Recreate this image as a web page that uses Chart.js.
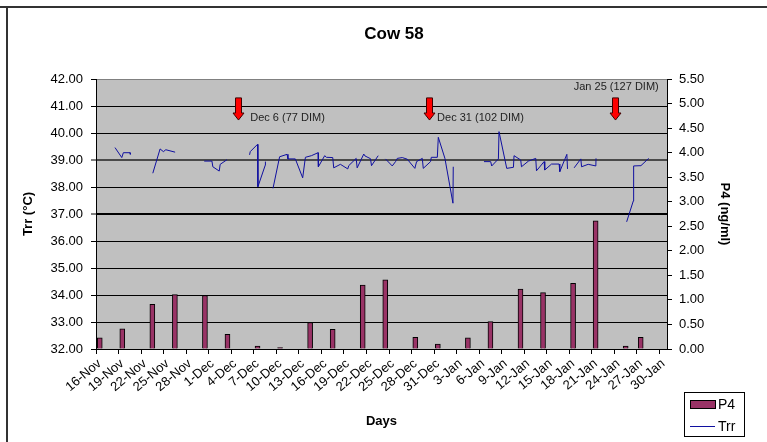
<!DOCTYPE html>
<html>
<head>
<meta charset="utf-8">
<script src="https://cdn.jsdelivr.net/npm/chart.js@4/dist/chart.umd.min.js"></script>
<style>
  html, body { margin: 0; padding: 0; background: #fff; overflow: hidden; }
  canvas { display: block; }
</style>
</head>
<body>
<canvas id="c" width="767" height="442"></canvas>
<script>
// ---- categories (one per day) ----
const categories = [
  '16-Nov','17-Nov','18-Nov','19-Nov','20-Nov','21-Nov','22-Nov','23-Nov','24-Nov','25-Nov',
  '26-Nov','27-Nov','28-Nov','29-Nov','30-Nov',
  '1-Dec','2-Dec','3-Dec','4-Dec','5-Dec','6-Dec','7-Dec','8-Dec','9-Dec','10-Dec',
  '11-Dec','12-Dec','13-Dec','14-Dec','15-Dec','16-Dec','17-Dec','18-Dec','19-Dec','20-Dec',
  '21-Dec','22-Dec','23-Dec','24-Dec','25-Dec','26-Dec','27-Dec','28-Dec','29-Dec','30-Dec','31-Dec',
  '1-Jan','2-Jan','3-Jan','4-Jan','5-Jan','6-Jan','7-Jan','8-Jan','9-Jan','10-Jan',
  '11-Jan','12-Jan','13-Jan','14-Jan','15-Jan','16-Jan','17-Jan','18-Jan','19-Jan','20-Jan',
  '21-Jan','22-Jan','23-Jan','24-Jan','25-Jan','26-Jan','27-Jan','28-Jan','29-Jan','30-Jan'
];
// ---- tick labels shown on the x axis ----
const tickLabels = ['16-Nov','19-Nov','22-Nov','25-Nov','28-Nov','1-Dec','4-Dec','7-Dec','10-Dec',
  '13-Dec','16-Dec','19-Dec','22-Dec','25-Dec','28-Dec','31-Dec','3-Jan','6-Jan','9-Jan','12-Jan',
  '15-Jan','18-Jan','21-Jan','24-Jan','27-Jan','30-Jan'];
const leftTicks = [32, 33, 34, 35, 36, 37, 38, 39, 40, 41, 42];
const rightTicks = [0, 0.5, 1, 1.5, 2, 2.5, 3, 3.5, 4, 4.5, 5, 5.5];

// ---- P4 (ng/ml) bars ----
const p4Dates = ['16-Nov','19-Nov','23-Nov','26-Nov','30-Nov','3-Dec','7-Dec','10-Dec','14-Dec','17-Dec',
  '21-Dec','24-Dec','28-Dec','31-Dec','4-Jan','7-Jan','11-Jan','14-Jan','18-Jan','21-Jan','25-Jan','27-Jan'];
const p4Values = [0.23, 0.41, 0.91, 1.11, 1.09, 0.30, 0.06, 0.03, 0.54, 0.40,
  1.30, 1.41, 0.24, 0.10, 0.23, 0.56, 1.22, 1.15, 1.34, 2.61, 0.06, 0.24];

// ---- Trr (°C) line: day offset from 16-Nov, temperature; null = gap ----
const trrDay = [
  2.03, 2.93, 3.14, 4.03, 4.07, null,
  7.06, 8.03, 8.47, 8.79, 10.03, null,
  13.9, 14.93, 15.05, 15.9, 16.03, 16.93, null,
  19.94, 20.03, 21.0, 21.05, 22.03, 22.05, null,
  23.06, 23.94, 24.93, 25.05, 26.03, 27.01, 27.37, 28.17, 29.06, 29.1, 29.94, 30.17, 31.01, 31.14,
  32.03, 33.01, 33.14, 34.13, 34.26, 35.14, 35.3, 36.03, 36.17, 37.06, null,
  38.03, 38.93, 39.37, 39.6, 40.26, 40.93, 41.94, 42.17, 42.93, 43.06, 44.03, 44.13, 44.93, 45.06,
  45.94, 47.01, 47.05, null,
  51.14, 52.03, 52.17, 53.06, 53.14, 54.17, 55.06, 55.14, 56.03, 56.13, 57.06, 58.03, 58.13, 59.14,
  59.23, 60.13, 61.14, 61.23, 62.17, 62.26, null,
  63.14, 64.03, 64.13, 65.01, 66.03, 66.05, null,
  70.13, 71.01, 71.06, 72.03, 73.06
];
const trrTemp = [
  39.46, 39.09, 39.27, 39.27, 39.21, null,
  38.51, 39.41, 39.31, 39.38, 39.29, null,
  38.96, 38.96, 38.75, 38.59, 38.84, 39.01, null,
  39.19, 39.31, 39.58, 38.01, 38.81, 38.94, null,
  37.95, 39.12, 39.21, 39.04, 39.04, 38.34, 39.10, 39.16, 39.27, 38.75, 39.16, 39.10, 39.09, 38.71,
  38.84, 38.67, 38.79, 39.06, 38.71, 39.22, 39.15, 39.05, 38.79, 39.16, null,
  39.04, 38.78, 38.94, 39.06, 39.09, 39.03, 38.69, 38.94, 39.06, 38.69, 38.94, 39.10, 39.10, 39.84,
  39.06, 37.40, 38.75, null,
  38.94, 38.94, 38.78, 39.04, 40.05, 38.69, 38.73, 39.16, 39.00, 38.75, 38.96, 39.06, 38.60, 38.94,
  38.63, 38.85, 38.85, 38.57, 39.21, 38.67, null,
  38.71, 39.04, 38.75, 38.84, 38.78, 39.06, null,
  36.71, 37.48, 38.78, 38.79, 39.06
];

// ---- annotations ----
const arrowDays = [18.4, 43.85, 68.6];
const arrowTopTemp = 41.30, arrowNeckTemp = 40.74, arrowTipTemp = 40.48;
const noteTexts = ['Dec 6 (77 DIM)', 'Dec 31 (102 DIM)', 'Jan 25 (127 DIM)'];
const noteDays = [20.03, 44.9, 74.4];
const noteTemps = [40.57, 40.57, 41.71];
const noteAlign = ['left', 'left', 'right'];

const FONT = "'Liberation Sans', Arial, Helvetica, sans-serif";
Chart.defaults.font.family = FONT;
Chart.defaults.color = '#000';

// build line data with gaps
const trrData = [];
let lastDay = 0;
for (let i = 0; i < trrDay.length; i++) {
  if (trrDay[i] === null) { trrData.push({x: lastDay + 0.001, y: null}); }
  else { lastDay = trrDay[i]; trrData.push({x: trrDay[i], y: trrTemp[i]}); }
}
const p4Data = p4Dates.map((d, i) => ({x: d, y: p4Values[i]}));

const decor = {
  id: 'decor',
  beforeDraw(chart) {
    const {ctx, chartArea: a} = chart;
    ctx.save();
    ctx.fillStyle = '#fff';
    ctx.fillRect(0, 0, chart.width, chart.height);
    ctx.fillStyle = '#c0c0c0';
    ctx.fillRect(a.left, a.top, a.right - a.left, a.bottom - a.top);
    ctx.restore();
  },
  afterDraw(chart) {
    const {ctx} = chart;
    const xs = chart.scales.xt, ys = chart.scales.y;
    ctx.save();
    // outer frame
    ctx.strokeStyle = '#333';
    ctx.lineWidth = 2;
    ctx.beginPath();
    ctx.moveTo(0, 7); ctx.lineTo(chart.width, 7);
    ctx.moveTo(7, 7); ctx.lineTo(7, chart.height);
    ctx.stroke();
    // title
    ctx.fillStyle = '#000';
    ctx.font = 'bold 17px ' + FONT;
    ctx.textAlign = 'center';
    ctx.textBaseline = 'middle';
    ctx.fillText('Cow 58', 394, 34);
    // arrows
    arrowDays.forEach(d => {
      const cx = Math.round(xs.getPixelForValue(d)) + 0.5;
      const yTop = ys.getPixelForValue(arrowTopTemp);
      const yNeck = ys.getPixelForValue(arrowNeckTemp);
      const yTip = ys.getPixelForValue(arrowTipTemp);
      ctx.beginPath();
      ctx.moveTo(cx - 3, yTop);
      ctx.lineTo(cx + 3, yTop);
      ctx.lineTo(cx + 3, yNeck);
      ctx.lineTo(cx + 5.5, yNeck);
      ctx.lineTo(cx, yTip);
      ctx.lineTo(cx - 5.5, yNeck);
      ctx.lineTo(cx - 3, yNeck);
      ctx.closePath();
      ctx.fillStyle = '#ff0000';
      ctx.fill();
      ctx.lineWidth = 1;
      ctx.strokeStyle = '#400000';
      ctx.stroke();
    });
    // notes
    ctx.font = '11px ' + FONT;
    ctx.fillStyle = '#222';
    ctx.textBaseline = 'middle';
    noteTexts.forEach((t, i) => {
      ctx.textAlign = noteAlign[i];
      ctx.fillText(t, xs.getPixelForValue(noteDays[i]), ys.getPixelForValue(noteTemps[i]));
    });
    // legend
    const ds = chart.data.datasets;
    ctx.fillStyle = '#fff';
    ctx.fillRect(684.5, 392.5, 60, 44);
    ctx.strokeStyle = '#000';
    ctx.lineWidth = 1;
    ctx.strokeRect(684.5, 392.5, 60, 44);
    ctx.fillStyle = ds[0].backgroundColor;
    ctx.fillRect(690.5, 400.5, 25, 8);
    ctx.strokeRect(690.5, 400.5, 25, 8);
    ctx.strokeStyle = ds[1].borderColor;
    ctx.beginPath();
    ctx.moveTo(690, 426.5); ctx.lineTo(715, 426.5);
    ctx.stroke();
    ctx.fillStyle = '#000';
    ctx.font = '14px ' + FONT;
    ctx.textAlign = 'left';
    ctx.fillText(ds[0].label, 718, 405);
    ctx.fillText(ds[1].label, 718, 427);
    ctx.restore();
  }
};

new Chart(document.getElementById('c'), {
  type: 'bar',
  data: {
    labels: categories,
    datasets: [
      {
        type: 'bar',
        label: 'P4',
        data: p4Data,
        xAxisID: 'x',
        yAxisID: 'y2',
        backgroundColor: '#993366',
        borderColor: '#000',
        borderWidth: 1,
        grouped: false,
        barThickness: 5,
        maxBarThickness: 5,
        order: 2
      },
      {
        type: 'line',
        label: 'Trr',
        data: trrData,
        xAxisID: 'xt',
        yAxisID: 'y',
        borderColor: '#1010a0',
        borderWidth: 1,
        pointRadius: 0,
        tension: 0,
        spanGaps: false,
        fill: false,
        order: 1
      }
    ]
  },
  options: {
    responsive: false,
    devicePixelRatio: 1,
    animation: false,
    layout: { padding: { top: 79, left: 0, right: 0, bottom: 0 } },
    plugins: { legend: { display: false }, tooltip: { enabled: false }, title: { display: false } },
    scales: {
      x: {
        type: 'category',
        position: 'bottom',
        offset: true,
        afterFit(s) { s.height = 93; },
        grid: {
          offset: true,
          drawOnChartArea: false,
          drawTicks: true,
          tickLength: 5,
          color: (c) => (c.index % 3 === 0 ? '#000' : 'rgba(0,0,0,0)'),
          tickColor: (c) => (c.index % 3 === 0 ? '#000' : 'rgba(0,0,0,0)')
        },
        border: { display: true, color: '#000', width: 1 },
        ticks: {
          autoSkip: false,
          minRotation: 40,
          maxRotation: 40,
          padding: 2,
          font: { size: 13 },
          color: '#000',
          callback(v, i) { const l = categories[i]; return tickLabels.includes(l) ? l : ''; }
        },
        title: { display: true, text: 'Days', font: { size: 13, weight: 'bold' }, padding: { top: 0, bottom: 13 } }
      },
      xt: {
        type: 'linear',
        display: false,
        offset: false,
        grid: { offset: false },
        min: -0.5,
        max: 75.5
      },
      y: {
        type: 'linear',
        position: 'left',
        min: 32,
        max: 42,
        afterFit(s) { s.width = 96; },
        afterBuildTicks(s) { s.ticks = leftTicks.map(v => ({value: v})); },
        grid: {
          drawOnChartArea: true,
          tickLength: 5,
          color: (c) => {
            const v = c.tick && c.tick.value;
            if (v === 42) return '#808080';
            if (v === 39) return '#4a4a4a';
            return '#000';
          },
          lineWidth: (c) => {
            const v = c.tick && c.tick.value;
            return (v === 39 || v === 37) ? 2 : 1;
          },
          tickColor: '#000',
          tickWidth: 1
        },
        border: { display: true, color: '#000', width: 1 },
        ticks: { padding: 8, font: { size: 13 }, color: '#000', callback: (v) => Number(v).toFixed(2) },
        title: { display: true, text: 'Trr (°C)', font: { size: 13, weight: 'bold' }, padding: { top: 21, bottom: 0 } }
      },
      y2: {
        type: 'linear',
        position: 'right',
        min: 0,
        max: 5.5,
        afterFit(s) { s.width = 100; },
        afterBuildTicks(s) { s.ticks = rightTicks.map(v => ({value: v})); },
        grid: { drawOnChartArea: false, tickLength: 5, color: '#000', tickColor: '#000' },
        border: { display: true, color: '#000', width: 1 },
        ticks: { padding: 7, font: { size: 13 }, color: '#000', callback: (v) => Number(v).toFixed(2) },
        title: { display: true, text: 'P4 (ng/ml)', font: { size: 13, weight: 'bold' }, padding: { top: 35, bottom: 0 } }
      }
    }
  },
  plugins: [decor]
});
</script>
</body>
</html>
